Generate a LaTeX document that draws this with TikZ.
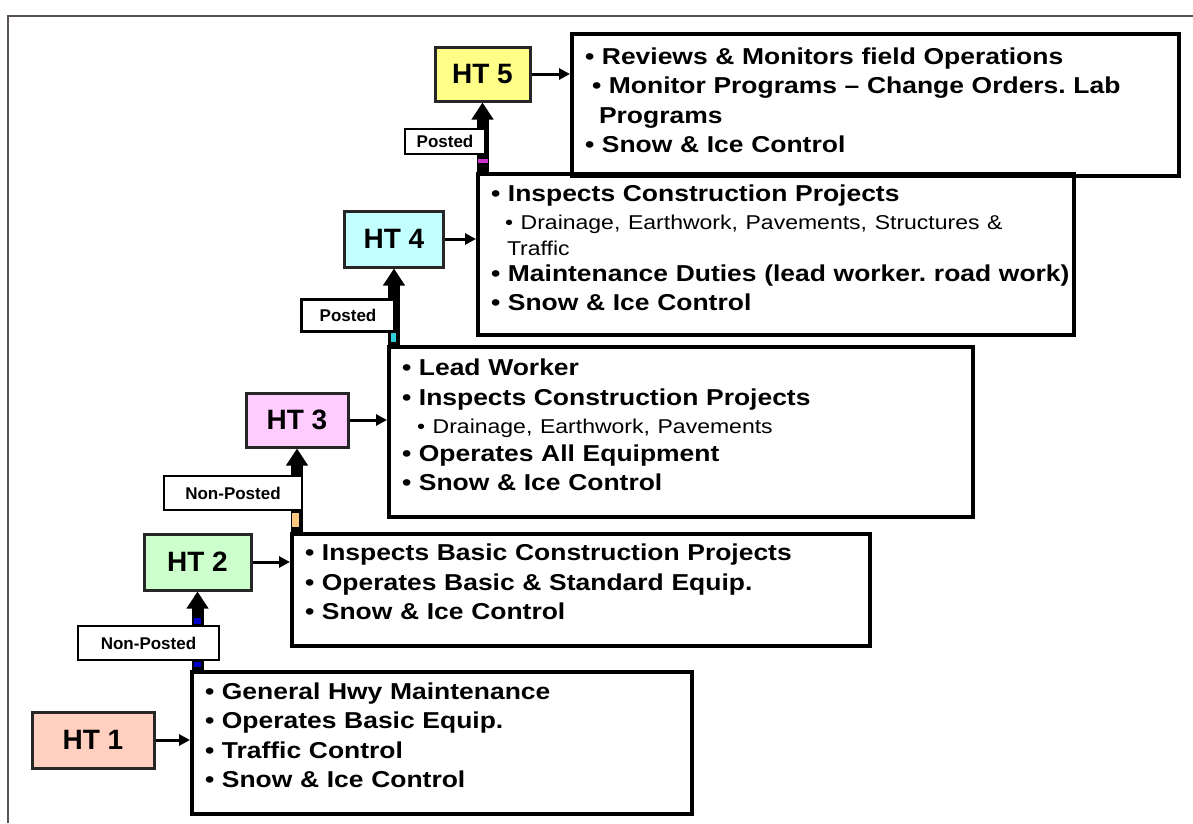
\documentclass[tikz,border=0pt]{standalone}
\usepackage{fontspec}
\setmainfont{Liberation Sans}
\newfontfamily\descfont{Liberation Sans}[FakeStretch = 1.15, WordSpace = 0.55]
\usepackage{tikz}
\usetikzlibrary{arrows.meta}
\usetikzlibrary{positioning}
\frenchspacing

\definecolor{frameline}{HTML}{5A5252}
\definecolor{htone}{HTML}{FFCFBF}
\definecolor{httwo}{HTML}{CCFFCC}
\definecolor{htthree}{HTML}{FFCCFF}
\definecolor{htfour}{HTML}{C4FFFF}
\definecolor{htfive}{HTML}{FFFF88}
\definecolor{markblue}{HTML}{0000CC}
\definecolor{markorange}{HTML}{FFC880}
\definecolor{markcyan}{HTML}{33CCDD}
\definecolor{markmagenta}{HTML}{CC33CC}

\newcommand{\subtext}{\descfont\mdseries\fontsize{20}{24}\selectfont}

\tikzset{
    htbox/.style   = {draw = black!85, line width = 3pt, minimum height = 56pt, inner sep = 0pt,
                      font = \bfseries\fontsize{28}{28}\selectfont},
    duties/.style  = {draw = black, line width = 4pt, anchor = north west, align = left,
                      inner xsep = 13pt, inner ysep = 0pt,
                      font = \descfont\bfseries\fontsize{23}{29.5}\selectfont},
    tag/.style     = {draw = black, line width = 2.5pt, fill = white, inner sep = 0pt,
                      font = \bfseries\fontsize{17}{17}\selectfont},
    promote/.style = {line width = 12pt, -{Triangle[width = 21pt, length = 17pt]}},
    feeds/.style   = {line width = 3pt, -{Triangle[width = 11pt, length = 11pt]}}
}

\begin{document}
\begin{tikzpicture}[x = 1pt, y = -1pt]
    \useasboundingbox (0,0) rectangle (1193,823);

    % Draw the frame:
    \draw [frameline, line width = 2pt] (8,823) -- (8,16) -- (1193,16);

    % Draw the duty boxes:
    \node [duties, text width = 474pt, minimum height = 142pt] (desc1) at (190,670)
        {• General Hwy Maintenance\\
         • Operates Basic Equip.\\
         • Traffic Control\\
         • Snow \& Ice Control\\[-13.5pt]\mbox{}};
    \node [duties, text width = 552pt, minimum height = 112pt] (desc2) at (290,532)
        {• Inspects Basic Construction Projects\\
         • Operates Basic \& Standard Equip.\\
         • Snow \& Ice Control\\[-13.5pt]\mbox{}};
    \node [duties, text width = 558pt, minimum height = 170pt] (desc3) at (387,345)
        {• Lead Worker\\
         • Inspects Construction Projects\\[-1pt]
         \hspace*{15pt}{\subtext • Drainage, Earthwork, Pavements}\\[-2pt]
         • Operates All Equipment\\
         • Snow \& Ice Control\\[-15.5pt]\mbox{}};
    \node [duties, text width = 570pt, minimum height = 161pt] (desc4) at (476,172)
        {• Inspects Construction Projects\\[-1pt]
         \hspace*{14pt}{\subtext • Drainage, Earthwork, Pavements, Structures \&}\\[-4pt]
         \hspace*{16pt}{\subtext Traffic}\\[-3pt]
         \mbox{• Maintenance Duties (lead worker. road work)}\\[-1pt]
         • Snow \& Ice Control\\[-15.5pt]\mbox{}};
    \node [duties, text width = 581pt, minimum height = 142pt] (desc5) at (570,32)
        {• Reviews \& Monitors field Operations\\
         \hspace*{7pt}• Monitor Programs – Change Orders. Lab\\
         \hspace*{14pt}Programs\\
         • Snow \& Ice Control\\[-19.5pt]\mbox{}};

    % Draw the grades:
    \node [htbox, fill = htone,   minimum width = 122pt] (ht1) at (93,740)    {HT 1};
    \node [htbox, fill = httwo,   minimum width = 107pt] (ht2) at (197.5,562) {HT 2};
    \node [htbox, fill = htthree, minimum width = 102pt, minimum height = 54pt] (ht3) at (297,420) {HT 3};
    \node [htbox, fill = htfour,  minimum width = 99pt]  (ht4) at (394,239)   {HT 4};
    \node [htbox, fill = htfive,  minimum width = 95pt, minimum height = 54pt] (ht5) at (482.5,74) {HT 5};

    % Draw the grade to duty arrows:
    \foreach \i in {1,...,5}
        \draw [feeds] (ht\i.east) -- (ht\i.east -| desc\i.west);

    % Draw the promotion arrows:
    \draw [promote] (ht2.south |- desc1.north) -- (ht2.south);
    \draw [promote] (ht3.south |- desc2.north) -- (ht3.south);
    \draw [promote] (ht4.south |- desc3.north) -- (ht4.south);
    \draw [promote] (ht5.south |- desc4.north) -- (ht5.south);

    % Draw the fill showing through the arrows:
    \fill [markblue]    (194,618) rectangle (201,624);
    \fill [markblue]    (194,662) rectangle (201,667);
    \fill [markorange]  (292,513) rectangle (299,527);
    \fill [markcyan]    (391,333) rectangle (396,342);
    \fill [markmagenta] (478,159) rectangle (488,163);

    % Draw the posting tags:
    \node [tag, minimum width = 141pt, minimum height = 34pt] (tag1) at (148.5,643) {Non-Posted};
    \node [tag, minimum width = 138pt, minimum height = 34pt] (tag2) at (233,493)   {Non-Posted};
    \node [tag, minimum width = 93pt,  minimum height = 32pt] (tag3) at (348,315.5) {Posted};
    \node [tag, minimum width = 80pt,  minimum height = 25pt] (tag4) at (445,141.5) {Posted};
\end{tikzpicture}
\end{document}
